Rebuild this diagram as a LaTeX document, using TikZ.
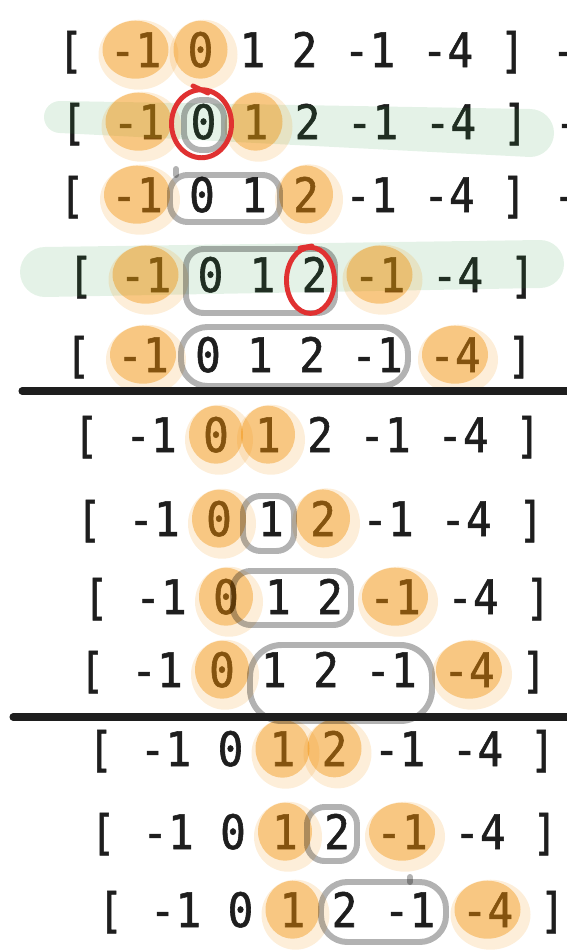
\documentclass[tikz,border=0pt]{standalone}
\usepackage{fontspec}
\newfontfamily\monofont[FakeStretch=0.9,FakeBold=1.2]{DejaVu Sans Mono}
\definecolor{hlorange}{HTML}{F08C00}
\definecolor{hlgreen}{HTML}{2F9E44}
\definecolor{hlred}{HTML}{E03131}
\definecolor{ink}{HTML}{1E1E1E}
\begin{document}
\begin{tikzpicture}[x=0.02cm,y=-0.02cm,
	tok/.style={font=\monofont\fontsize{27}{32}\selectfont, inner sep=0pt, anchor=base, text=ink},
	blob/.style={fill=hlorange, fill opacity=0.4},
	halo/.style={fill=hlorange, fill opacity=0.15},
	band/.style={fill=hlgreen, fill opacity=0.13},
	gbox/.style={draw=black, draw opacity=0.3, line width=3.4pt, rounded corners=10pt},
	rloop/.style={draw=hlred, line width=2.8pt, line cap=round},
	rule/.style={draw=ink, line width=4pt, line cap=round}]
				\useasboundingbox (0,0) rectangle (566,950);
				% rows of the array
				\foreach \row/\cz/\base in {1/70.5/67,2/73.5/139,3/72/212,4/80.5/292,5/78/372,6/86/452,
					7/89/536,8/96/614,9/92/687,10/100.5/766,11/103/849,12/110.5/927}{
					\foreach \cell/\txt [count=\k] in {0/{[},2.5/-1,5/0,7/1,9/2,11.5/-1,14.5/-4,17/{]}}{
						\node[tok] (r\row-\k) at (\cz+26*\cell,\base) {\txt};
					}
				}
				% cut off at the right edge
				\foreach \row/\cz/\base in {1/70.5/67,2/73.5/139,3/72/212}
					\node[tok] (r\row-9) at (\cz+26*19,\base) {-};
				% green bands
				\fill[band] (60,101) -- (530,109) arc (-90:90:24) -- (60,133) arc (90:270:16) -- cycle;
				\fill[band] (45,247) -- (540,240) arc (-90:90:24) -- (45,297) arc (90:270:25) -- cycle;
				% orange marks
				\foreach \row/\a/\b in {1/2/3,2/2/4,3/2/5,4/2/6,5/2/7,6/3/4,7/3/5,8/3/6,9/3/7,10/4/5,11/4/6,12/4/7}{
					\foreach \k in {\a,\b}{
						\pgfmathsetmacro{\rx}{(\k==2||\k==6||\k==7) ? 33 : 27}
						\fill[halo] ([shift={(3,5)}]r\row-\k) ellipse [x radius=\rx+7, y radius=35];
						\fill[blob] (r\row-\k) ellipse [x radius=\rx, y radius=29];
					}
				}
				% grey windows
				\draw[gbox] (184,100) rectangle (224,150);
				\draw[gbox] (170,175) rectangle (280,222);
				\draw[gbox, line cap=round] (176,175) -- (176,169);
				\draw[gbox] (186,249) rectangle (335,313);
				\draw[gbox, rounded corners=15pt] (181,327) rectangle (408,386);
				\draw[gbox] (243,496) rectangle (294,551);
				\draw[gbox] (233,571) rectangle (351,625);
				\draw[gbox, rounded corners=18pt] (250,645) rectangle (432,721);
				\draw[gbox] (307,807) rectangle (357,861);
				\draw[gbox, rounded corners=15pt] (321,882) rectangle (446,942);
				\draw[gbox, line cap=round] (410,882) -- (410,877);
				% red loops
				\draw[rloop] ([shift={(-2,2)}]r2-3) ellipse [x radius=30, y radius=34];
				\draw[rloop] (193,86) -- (208,93);
				\draw[rloop] ([shift={(-4,6)}]r4-5) ellipse [x radius=24, y radius=33];
				\draw[rloop] (300,248) -- (312,246);
				% separators
				\draw[rule] (22,391) -- (575,391);
				\draw[rule] (13,717) -- (575,717);
\end{tikzpicture}
\end{document}
